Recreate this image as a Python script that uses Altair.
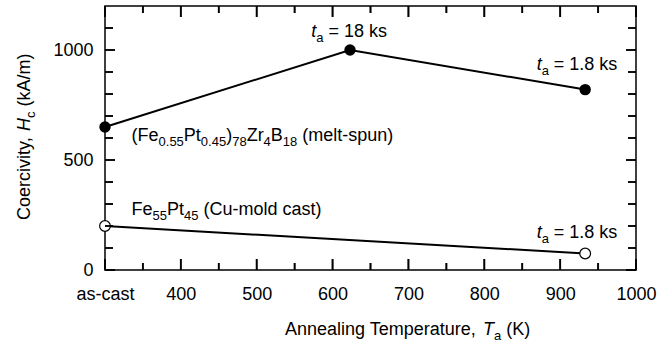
import altair as alt
import pandas as pd

FONT = "Liberation Sans"
MAIN = 18
SUB = 13

# ---- data ----
melt_T = [300, 623, 933]
melt_Hc = [650, 1000, 820]
cast_T = [300, 933]
cast_Hc = [200, 75]

x_major = [300, 400, 500, 600, 700, 800, 900, 1000]
x_minor = [350, 450, 550, 650, 750, 850, 950]
y_major = [0, 500, 1000]
y_minor = [100, 200, 300, 400, 600, 700, 800, 900, 1100]

W, H = 531, 264
X0, X1, Y0, Y1 = 300, 1000, 0, 1200
PX = W / (X1 - X0)   # px per K
PY = H / (Y1 - Y0)   # px per kA/m
TICK_W = 1.6

xs = alt.Scale(domain=[X0, X1], nice=False, zero=False)
ys = alt.Scale(domain=[Y0, Y1], nice=False, zero=True)

# Arial / Liberation Sans advance widths (1/1000 em)
AW = {' ': 278, '(': 333, ')': 333, ',': 278, '-': 333, '.': 278, '/': 278,
      '=': 584, 'A': 667, 'B': 667, 'C': 722, 'F': 611, 'H': 722, 'K': 667, 'P': 667,
      'T': 611, 'Z': 611, 'a': 556, 'c': 500, 'd': 556, 'e': 556, 'g': 556, 'i': 222,
      'k': 500, 'l': 222, 'm': 833, 'n': 556, 'o': 556, 'p': 556, 'r': 333, 's': 500,
      't': 278, 'u': 556, 'v': 500, 'y': 500}
for d in '0123456789':
    AW[d] = 556


def tw(s, size):
    return sum(AW.get(c, 556) for c in s) * size / 1000.0


def rich(segments, x_enc, y_enc, df, angle=0):
    layers = []
    cum = 0.0
    for text, kind in segments:
        size = SUB if kind == 's' else MAIN
        style = 'italic' if kind == 'i' else 'normal'
        dy = 5 if kind == 's' else 0
        lead = len(text) - len(text.lstrip(' '))
        cum += tw(' ' * lead, size)
        core = text.strip(' ')
        trail = len(text) - lead - len(core)
        d = df.copy()
        d['t'] = core
        kw = dict(align='left', baseline='alphabetic', font=FONT, fontSize=size,
                  fontStyle=style, dx=round(cum, 1), dy=dy, color='black')
        if angle:
            kw['angle'] = angle
        layers.append(alt.Chart(d).mark_text(**kw).encode(x=x_enc, y=y_enc, text='t:N'))
        cum += tw(core, size) + tw(' ' * trail, size)
    return layers


def anchored(segments, xv, yv):
    df = pd.DataFrame({'x': [xv], 'y': [yv]})
    return rich(segments, alt.X('x:Q', scale=xs), alt.Y('y:Q', scale=ys), df)


def pix(segments, px, py, angle=0):
    df = pd.DataFrame({'k': [0]})
    return rich(segments, alt.value(px), alt.value(py), df, angle)


# ---- inward ticks on all four sides ----
def xticks(vals, L, tag):
    dl = L / PY
    n = len(vals)
    d = pd.DataFrame({'xt' + tag: [float(v) for v in vals] * 2,
                      'ya' + tag: [float(Y0)] * n + [float(Y1)] * n,
                      'yb' + tag: [Y0 + dl] * n + [Y1 - dl] * n})
    return alt.Chart(d).mark_rule(stroke='black', strokeWidth=TICK_W).encode(
        x=alt.X('xt%s:Q' % tag, scale=xs),
        y=alt.Y('ya%s:Q' % tag, scale=ys),
        y2=alt.Y2('yb%s:Q' % tag))


def yticks(vals, L, tag):
    dl = L / PX
    n = len(vals)
    d = pd.DataFrame({'yt' + tag: [float(v) for v in vals] * 2,
                      'xa' + tag: [float(X0)] * n + [float(X1)] * n,
                      'xb' + tag: [X0 + dl] * n + [X1 - dl] * n})
    return alt.Chart(d).mark_rule(stroke='black', strokeWidth=TICK_W).encode(
        y=alt.Y('yt%s:Q' % tag, scale=ys),
        x=alt.X('xa%s:Q' % tag, scale=xs),
        x2=alt.X2('xb%s:Q' % tag))


def xtick_marks(vals, L, tag):
    d = pd.DataFrame({'xk' + tag: [float(v) for v in vals]})
    b = alt.Chart(d).mark_tick(color='black', thickness=2, size=L, orient='vertical')
    return [b.encode(x=alt.X('xk%s:Q' % tag, scale=xs), y=alt.value(H - L / 2)),
            b.encode(x=alt.X('xk%s:Q' % tag, scale=xs), y=alt.value(L / 2))]


def ytick_marks(vals, L, tag):
    d = pd.DataFrame({'yk' + tag: [float(v) for v in vals]})
    b = alt.Chart(d).mark_tick(color='black', thickness=2, size=L, orient='horizontal')
    return [b.encode(y=alt.Y('yk%s:Q' % tag, scale=ys), x=alt.value(L / 2)),
            b.encode(y=alt.Y('yk%s:Q' % tag, scale=ys), x=alt.value(W - L / 2))]


ticks = [xticks(x_major, 11, 'M'), xticks(x_minor, 7, 'm'),
         yticks(y_major, 10, 'M'), yticks(y_minor, 8, 'm')]
ticks += xtick_marks(x_major, 11, 'M') + xtick_marks(x_minor, 7, 'm')
ticks += ytick_marks(y_major, 10, 'M') + ytick_marks(y_minor, 8, 'm')

# ---- base with axes (labels only) ----
base_df = pd.DataFrame({'T': [X0, X1], 'Hc': [Y0, Y1]})
axes = alt.Chart(base_df).mark_point(opacity=0).encode(
    x=alt.X('T:Q', scale=xs, axis=alt.Axis(
        values=x_major, labelExpr="datum.value == 300 ? 'as-cast' : datum.value",
        ticks=False, domain=False, grid=False, title=None, labelFont=FONT,
        labelFontSize=MAIN, labelColor='black', labelPadding=15, labelFlush=False)),
    y=alt.Y('Hc:Q', scale=ys, axis=alt.Axis(
        values=y_major, format='d', ticks=False, domain=False, grid=False, title=None,
        labelFont=FONT, labelFontSize=MAIN, labelColor='black', labelPadding=12)),
)

# ---- series ----
melt_df = pd.DataFrame({'T': melt_T, 'Hc': melt_Hc})
cast_df = pd.DataFrame({'T': cast_T, 'Hc': cast_Hc})
enc = dict(x=alt.X('T:Q', scale=xs), y=alt.Y('Hc:Q', scale=ys))
melt_line = alt.Chart(melt_df).mark_line(color='black', strokeWidth=2, clip=False).encode(**enc)
cast_line = alt.Chart(cast_df).mark_line(color='black', strokeWidth=2, clip=False).encode(**enc)
melt_pts = alt.Chart(melt_df).mark_point(shape='circle', filled=True, color='black', size=130,
                                         opacity=1, clip=False).encode(**enc)
cast_pts = alt.Chart(cast_df).mark_point(shape='circle', filled=True, fill='white', stroke='black',
                                         strokeWidth=1.2, size=115, opacity=1,
                                         clip=False).encode(**enc)

# ---- annotations ----
ann = []
ann += anchored([('(Fe', 'n'), ('0.55', 's'), ('Pt', 'n'), ('0.45', 's'), (')', 'n'),
                 ('78', 's'), ('Zr', 'n'), ('4', 's'), ('B', 'n'), ('18', 's'),
                 (' (melt-spun)', 'n')], 335, 586)
ann += anchored([('Fe', 'n'), ('55', 's'), ('Pt', 'n'), ('45', 's'),
                 (' (Cu-mold cast)', 'n')], 335, 250)
ann += anchored([('t', 'i'), ('a', 's'), (' = 18 ks', 'n')], 572, 1060)
ann += anchored([('t', 'i'), ('a', 's'), (' = 1.8 ks', 'n')], 869, 909)
ann += anchored([('t', 'i'), ('a', 's'), (' = 1.8 ks', 'n')], 869, 145)

# axis titles
ann += pix([('Annealing Temperature, ', 'n'), ('T', 'i'), ('a', 's'), (' (K)', 'n')], 180, 329)
ann += pix([('Coercivity, ', 'n'), ('H', 'i'), ('c', 's'), (' (kA/m)', 'n')], -75, 214, angle=270)

chart = alt.layer(axes, melt_line, cast_line, melt_pts, cast_pts, *ann, *ticks).properties(
    width=W, height=H,
    autosize=alt.AutoSizeParams(type='none'),
    padding={'left': 105, 'top': 6, 'right': 34, 'bottom': 76},
    background='white',
).configure_view(stroke='black', strokeWidth=1.5)

chart.save("out.html", embed_options={"renderer": "svg", "actions": False})
